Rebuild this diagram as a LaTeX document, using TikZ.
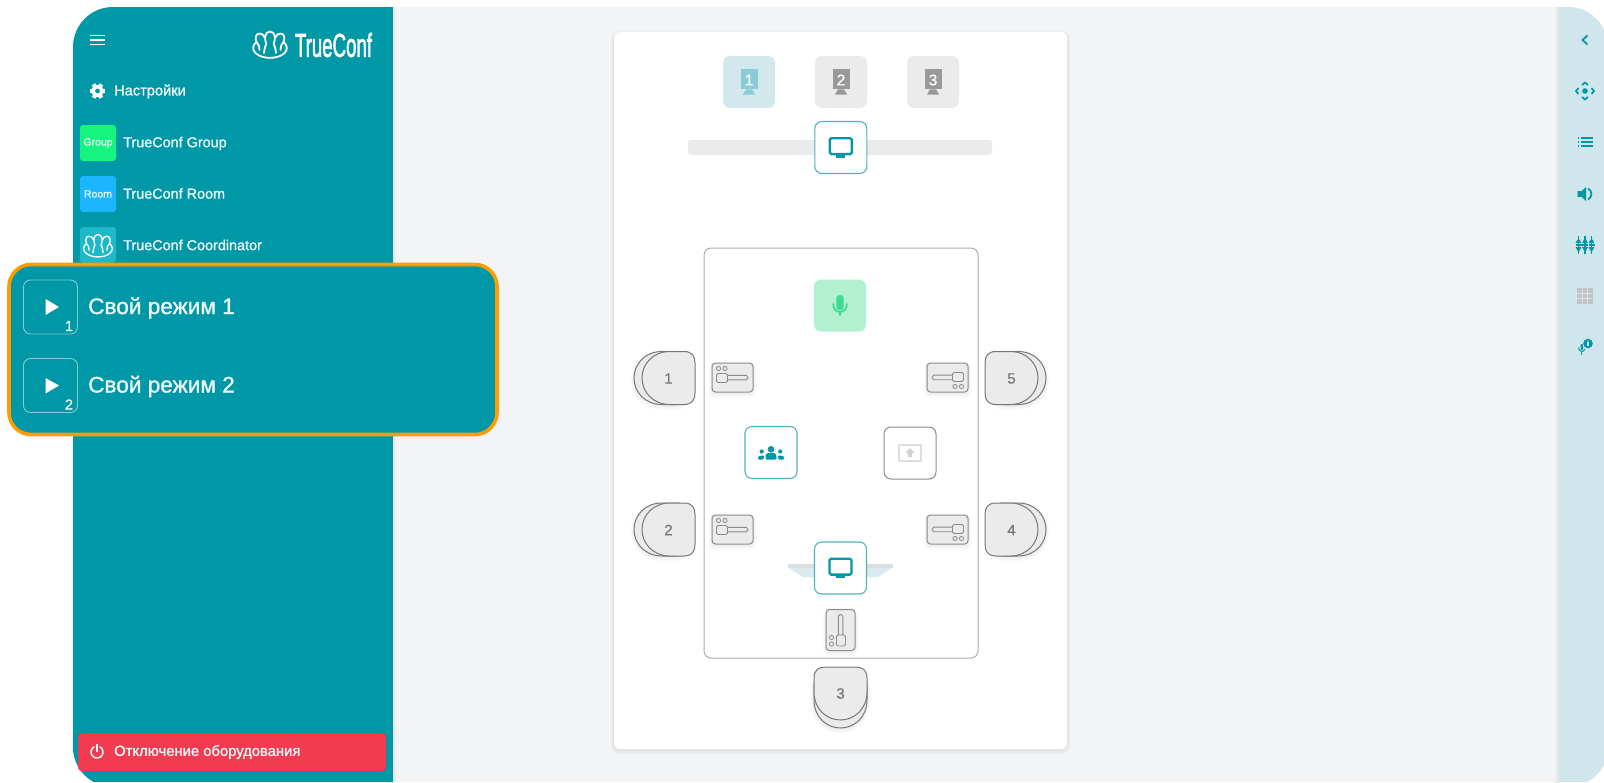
\documentclass[tikz,border=0pt]{standalone}
\usepackage{fontspec}
\setmainfont{Liberation Sans}
\newfontfamily\rbm[FakeBold=1.3]{Liberation Sans}
\newfontfamily\rbr[FakeBold=0.6]{Liberation Sans}
\newfontfamily\rbl[FakeBold=2.2]{Liberation Sans}
\usetikzlibrary{shadings}
\definecolor{teal1}{HTML}{0097A7}
\definecolor{pagebg}{HTML}{F3F4F6}
\definecolor{panelc}{HTML}{CFE7EC}
\definecolor{txtw}{HTML}{EAF7F8}
\definecolor{orng}{HTML}{FF9C00}
\definecolor{redb}{HTML}{F23B50}
\definecolor{greyt}{HTML}{EBEBEB}
\definecolor{greyi}{HTML}{999999}
\definecolor{seatl}{HTML}{777777}
\definecolor{tealt}{HTML}{D3E8EC}
\definecolor{teali}{HTML}{8ACBD5}
\definecolor{tealb}{HTML}{4FB3BF}
\definecolor{mint}{HTML}{B2F0D2}
\definecolor{minti}{HTML}{3CDD90}
\definecolor{grpc}{HTML}{14F47E}
\definecolor{roomc}{HTML}{1BB6FF}
\definecolor{crdc}{HTML}{1DB8C9}
\tikzset{
  softshadow/.style={
    preaction={draw=black,draw opacity=.02,line width=7pt,transform canvas={yshift=-2pt}},
    preaction={draw=black,draw opacity=.025,line width=4pt,transform canvas={yshift=-2pt}},
    preaction={draw=black,draw opacity=.025,line width=2pt,transform canvas={yshift=-1pt}}},
  tilebox/.style={rounded corners=7pt,minimum width=52pt,minimum height=52pt,inner sep=0pt},
  greytile/.style={tilebox,fill=greyt},
  tealbtn/.style={tilebox,draw=tealb,line width=1.1pt,fill=white},
  sidetile/.style={rounded corners=3pt,minimum width=36pt,minimum height=36pt,inner sep=0pt,font=\rbr\fontsize{10.5}{12}\selectfont},
  lab/.style={anchor=west,inner sep=0pt,text=txtw},
  modebtn/.style={draw=txtw!55!teal1,line width=.9pt,rounded corners=7pt,minimum width=54pt,minimum height=54pt,inner sep=0pt},
  ctrlbox/.style={draw=seatl!85!white,fill=greyt,line width=1pt,rounded corners=3.5pt,minimum width=41pt,minimum height=29pt,inner sep=0pt,transform shape,softshadow},
  ctrlline/.style={draw=seatl!85!white,line width=.9pt,fill=greyt},
  seatline/.style={draw=seatl,line width=1pt,fill=greyt},
  seatnum/.style={inner sep=0pt,text=seatl,font=\rbr\fontsize{15}{17}\selectfont},
  iconp/.style={fill=teal1,draw=none}
}
\newcommand{\monicon}[2]{%
  \draw[teal1,line width=2.3pt,rounded corners=1.5pt] (#1-11,#2-8.2) rectangle (#1+11,#2+7.6);
  \fill[teal1] (#1-4.5,#2+8.5) rectangle (#1+4.5,#2+11);
}
\newcommand{\seatshape}[1]{%
  \path[#1] (-26.5,11) .. controls (-26.5,3) and (-22,0) .. (-15,0) -- (15,0) .. controls (22,0) and (26.5,3) .. (26.5,11)
    -- (26.5,25) .. controls (26.5,42) and (14,53) .. (0,53) .. controls (-14,53) and (-26.5,42) .. (-26.5,25) -- cycle;
}
\newcommand{\seat}[6]{%
  \begin{scope}[shift={(#2,#3)},rotate=#4]
    \begin{scope}[yshift=-8pt]\seatshape{seatline,softshadow}\end{scope}
    \seatshape{seatline}
  \end{scope}
  \node[seatnum] (#1) at (#5) {#6};
}
\newcommand{\ctrl}[4]{%
  \begin{scope}[shift={(#2,#3)},rotate=#4]
    \node[ctrlbox] (#1) at (0,0) {};
    \path[ctrlline,rounded corners=1.8pt] (-6,-2.2) rectangle (15.5,2.4);
    \path[ctrlline,rounded corners=1.5pt] (-16,-4) rectangle (-5,5);
    \draw[seatl!85!white,line width=.8pt] (-14,-9) circle[radius=2.1pt] (-7.5,-9) circle[radius=2.1pt];
  \end{scope}
}
\newcommand{\handlogo}[4]{%
  \begin{scope}[shift={(#1,#2)},scale=#3]
    \draw[white,line width=#4,line cap=round,line join=round]
      (-6,8) .. controls (-5.5,4) and (-5,1) .. (-3.6,-1.5) .. controls (-6,-5) and (-5.5,-13.5) .. (0,-13.5) .. controls (5.5,-13.5) and (6,-5) .. (3.6,-1.5) .. controls (5,1) and (5.5,4) .. (6,8)
      (-5.4,-7.5) .. controls (-6,-10) and (-8,-11.5) .. (-10.5,-11.5) .. controls (-15,-11.5) and (-15.5,-5) .. (-12.5,-1.5) .. controls (-11,0) and (-10.5,2) .. (-10.5,5)
      (5.4,-7.5) .. controls (6,-10) and (8,-11.5) .. (10.5,-11.5) .. controls (15,-11.5) and (15.5,-5) .. (12.5,-1.5) .. controls (11,0) and (10.5,2) .. (10.5,5)
      (-13.5,-3) .. controls (-17.5,0) and (-18,5) .. (-14.5,8) .. controls (-8,14.5) and (8,14.5) .. (14.5,8) .. controls (18,5) and (17.5,0) .. (13.5,-3);
  \end{scope}
}
\begin{document}
\begin{tikzpicture}[x=1pt,y=-1pt]
\useasboundingbox (0,0) rectangle (1604,782);
\fill[white] (0,0) rectangle (1604,782);
\begin{scope}
  \clip[rounded corners=40pt] (73,7) rectangle (1608,787);
  \fill[pagebg] (393,0) rectangle (1604,782);
  \fill[teal1] (73,0) rectangle (393,782);
  \shade[left color=black!7!pagebg,right color=pagebg] (393,0) rectangle (396,782);
  \fill[panelc] (1559,0) rectangle (1608,782);
  \shade[left color=pagebg,right color=black!8!pagebg] (1554,0) rectangle (1559,782);
\end{scope}
% --- sidebar ---
\draw[white,line width=1.4pt] (90,35.7) -- (105,35.7) (90,40) -- (105,40) (90,44.2) -- (105,44.2);
\handlogo{270}{45}{1}{1.8pt}
\node[inner sep=0pt,text=white] (logotext) at (333.5,45) {\resizebox{77pt}{24pt}{\rbl TrueConf}};
\begin{scope}[shift={(97.5,91)}]
  \foreach \a in {0,60,120} {\draw[white,line width=4pt,rotate=\a] (-7.8,0) -- (7.8,0);}
  \fill[white] (0,0) circle[radius=6pt];
  \fill[teal1] (0,0) circle[radius=2.4pt];
\end{scope}
\node[lab,font=\rbm\fontsize{14.6}{16}\selectfont] (nast) at (114,91.5) {Настройки};
\node[sidetile,fill=grpc,text=txtw] (grp) at (98,143) {Group};
\node[lab,font=\rbm\fontsize{14.4}{16}\selectfont] (grpl) at (123,143.5) {TrueConf Group};
\node[sidetile,fill=roomc,text=txtw] (room) at (98,194) {Room};
\node[lab,font=\rbm\fontsize{14.4}{16}\selectfont] (rooml) at (123,193.5) {TrueConf Room};
\node[sidetile,fill=crdc] (crd) at (98,245) {};
\handlogo{98}{246}{.85}{1.3pt}
\node[lab,font=\rbm\fontsize{14.4}{16}\selectfont] (crdl) at (123,245) {TrueConf Coordinator};
\node[fill=redb,rounded corners=3.5pt,minimum width=308pt,minimum height=38pt,inner sep=0pt] (off) at (232,752) {};
\draw[txtw,line width=1.5pt,line cap=round] (94,746.8) arc[start angle=120,end angle=420,radius=6pt];
\draw[txtw,line width=1.5pt,line cap=round] (97,744.5) -- (97,751.5);
\node[lab,font=\rbm\fontsize{14.8}{16}\selectfont] (offl) at (114,752) {Отключение оборудования};
\node[draw=orng,fill=teal1,line width=3.6pt,rounded corners=22pt,minimum width=488pt,minimum height=170pt,inner sep=0pt] (hl) at (253,349.5) {};
\node[modebtn] (m1) at (50.5,307) {};
\fill[white] (45.5,299) -- (59,307) -- (45.5,315) -- cycle;
\node[inner sep=0pt,text=txtw,font=\rbm\fontsize{14.5}{15}\selectfont] (m1n) at (69,326) {1};
\node[lab,font=\rbm\fontsize{22.6}{24}\selectfont] (m1l) at (88,308) {Свой режим 1};
\node[modebtn] (m2) at (50.5,385.5) {};
\fill[white] (45.5,378) -- (59,385.5) -- (45.5,393.5) -- cycle;
\node[inner sep=0pt,text=txtw,font=\rbm\fontsize{14.5}{15}\selectfont] (m2n) at (69,404.5) {2};
\node[lab,font=\rbm\fontsize{22.6}{24}\selectfont] (m2l) at (88,386.5) {Свой режим 2};
% --- card ---
\node[fill=white,rounded corners=6pt,minimum width=453pt,minimum height=717pt,inner sep=0pt,softshadow] (card) at (840.5,390.5) {};
\node[greytile,fill=tealt] (s1) at (749,82) {};
\fill[teali] (740.5,69.3) rectangle (757.5,89.3);
\fill[teali] (746,89.3) -- (752,89.3) -- (755,94.5) -- (743,94.5) -- cycle;
\node[inner sep=0pt,text=white,font=\rbr\fontsize{15.5}{17}\selectfont] (s1n) at (749,80) {1};
\node[greytile] (s2) at (841,82) {};
\fill[greyi] (832.5,69.3) rectangle (849.5,89.3);
\fill[greyi] (838,89.3) -- (844,89.3) -- (847,94.5) -- (835,94.5) -- cycle;
\node[inner sep=0pt,text=white,font=\rbr\fontsize{15.5}{17}\selectfont] (s2n) at (841,80) {2};
\node[greytile] (s3) at (933,82) {};
\fill[greyi] (924.5,69.3) rectangle (941.5,89.3);
\fill[greyi] (930,89.3) -- (936,89.3) -- (939,94.5) -- (927,94.5) -- cycle;
\node[inner sep=0pt,text=white,font=\rbr\fontsize{15.5}{17}\selectfont] (s3n) at (933,80) {3};
\node[fill=greyt,rounded corners=3pt,minimum width=304pt,minimum height=15pt,inner sep=0pt] (bar) at (840,147.5) {};
\node[tealbtn] (monA) at (840.8,147.5) {};
\monicon{840.8}{146.5}
% table
\node[draw=black!32,fill=white,line width=1pt,rounded corners=7pt,minimum width=274pt,minimum height=410pt,inner sep=0pt] (table) at (841,453) {};
\node[tilebox,fill=mint] (mic) at (840,305.5) {};
\begin{scope}[shift={(840,305)}]
  \fill[minti,rounded corners=3.3pt] (-3.7,-10) rectangle (3.7,5);
  \draw[minti,line width=1.8pt,line cap=round] (-6.8,-1) .. controls (-6.8,9.5) and (6.8,9.5) .. (6.8,-1);
  \draw[minti,line width=1.8pt] (0,7) -- (0,11);
\end{scope}
\seat{seatA}{695}{378}{-90}{668.5,378.5}{1}
\seat{seatB}{695}{529.5}{-90}{668.5,530}{2}
\seat{seatC}{840.5}{667}{0}{840.5,693.5}{3}
\seat{seatD}{985}{529.5}{90}{1011.5,530}{4}
\seat{seatE}{985}{378}{90}{1011.5,378.5}{5}
\ctrl{ctrlA}{732.5}{377.5}{0}
\ctrl{ctrlB}{732.5}{529.5}{0}
\ctrl{ctrlD}{947.5}{529.5}{180}
\ctrl{ctrlE}{947.5}{377.5}{180}
\ctrl{ctrlC}{840.5}{630}{90}
\node[tealbtn] (grpbtn) at (771,452.5) {};
\fill[teal1] (771,449.3) circle[radius=3.3pt] (761.7,451.5) circle[radius=2.1pt] (780.3,451.5) circle[radius=2.1pt];
\fill[teal1,rounded corners=1.2pt] (765.5,459.5) -- (765.5,456) .. controls (766,453) and (769,453) .. (771,453) .. controls (773,453) and (776,453) .. (776.5,456) -- (776.5,459.5) -- cycle;
\fill[teal1,rounded corners=.8pt] (758,459.5) -- (758.5,456) -- (764,455.5) -- (763.5,459.5) -- cycle;
\fill[teal1,rounded corners=.8pt] (778.5,459.5) -- (778,455.5) -- (783.5,456) -- (784,459.5) -- cycle;
\node[tilebox,draw=black!45,fill=white,line width=1pt] (share) at (910,453) {};
\draw[black!13,line width=2pt] (899,444.5) rectangle (921,461);
\fill[black!18] (910,448) -- (914.5,452.8) -- (912.2,452.8) -- (912.2,457) -- (907.8,457) -- (907.8,452.8) -- (905.5,452.8) -- cycle;
\fill[black!13] (788,564) -- (893,564) -- (893,568) -- (788,568) -- cycle;
\fill[tealt!85!white] (789,568) -- (892,568) -- (878,577) -- (803,577) -- cycle;
\node[tilebox,draw=tealb,line width=1.1pt,fill=white] (monB) at (840.5,568) {};
\monicon{840.5}{567}
% --- right panel icons ---
\node[inner sep=0pt,minimum size=1pt] (chev) at (1585,40) {};
\draw[teal1,line width=1.8pt] (1587.5,35.5) -- (1582.5,40) -- (1587.5,44.5);
\begin{scope}[shift={(1585,91)}]
  \fill[teal1] (0,0) circle[radius=2.8pt];
  \draw[teal1,line width=1.7pt] (-3,-6) -- (0,-8.5) -- (3,-6);
  \draw[teal1,line width=1.7pt] (-3,6) -- (0,8.5) -- (3,6);
  \draw[teal1,line width=1.7pt] (-6.5,-3) -- (-9,0) -- (-6.5,3);
  \draw[teal1,line width=1.7pt] (6.5,-3) -- (9,0) -- (6.5,3);
\end{scope}
\begin{scope}[shift={(1585,142)}]
  \foreach \yy in {-4,0,4} {
    \fill[teal1] (-7.5,\yy-.8) rectangle (-5.8,\yy+.8);
    \fill[teal1] (-4.2,\yy-.8) rectangle (7.5,\yy+.8);
  }
\end{scope}
\begin{scope}[shift={(1585,194)}]
  \fill[teal1] (-7.5,-2.8) -- (-3.5,-2.8) -- (1,-7) -- (1,7) -- (-3.5,2.8) -- (-7.5,2.8) -- cycle;
  \draw[teal1,line width=1.8pt] (3,-5.5) .. controls (7.5,-3.5) and (7.5,3.5) .. (3,5.5);
\end{scope}
\begin{scope}[shift={(1585,245)}]
  \foreach \xx in {-6.5,0,6.5} {
    \draw[teal1,line width=1.3pt] (\xx,-9) -- (\xx,9);
    \fill[teal1] (\xx-2.8,-2) -- (\xx-1,-5.5) -- (\xx+1,-5.5) -- (\xx+2.8,-2) -- cycle;
    \fill[teal1] (\xx-3,-1.5) rectangle (\xx+3,1);
    \fill[teal1] (\xx-3,2) -- (\xx+3,2) -- (\xx,7.5) -- cycle;
  }
\end{scope}
\begin{scope}[shift={(1585,296)}]
  \foreach \xx in {-5.5,0,5.5} \foreach \yy in {-5.5,0,5.5}
    \fill[black!24] (\xx-2.3,\yy-2.3) rectangle (\xx+2.3,\yy+2.3);
\end{scope}
\begin{scope}[shift={(1585,347)}]
  \fill[teal1] (3,-3.5) circle[radius=4.8pt];
  \fill[panelc] (3,-5.9) circle[radius=.7pt];
  \fill[panelc] (2.4,-4.6) rectangle (3.6,-1);
  \fill[teal1,rounded corners=1pt] (-4.5,-3) rectangle (-2,3);
  \draw[teal1,line width=1pt] (-6.5,0.5) .. controls (-6.5,5.5) and (-.5,5.5) .. (-.3,2);
  \draw[teal1,line width=1pt] (-3.4,4) -- (-3.4,7.5);
\end{scope}
\end{tikzpicture}
\end{document}
